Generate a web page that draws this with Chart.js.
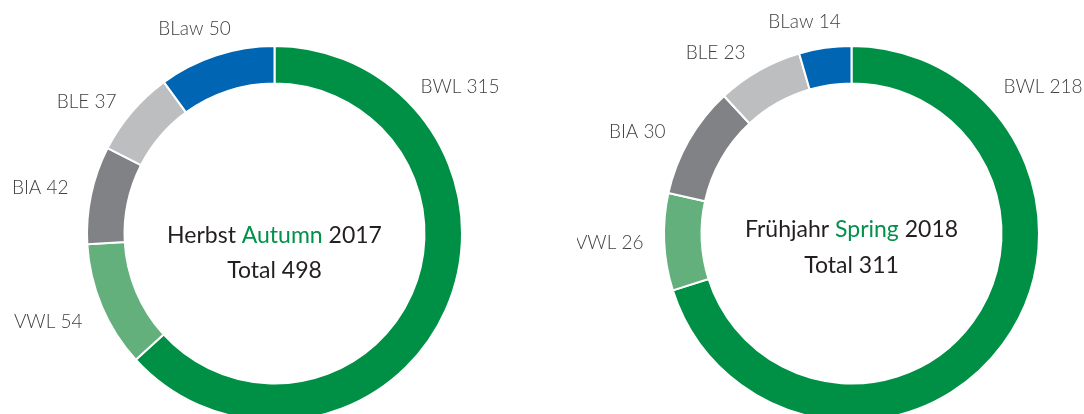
<!DOCTYPE html>
<html>
<head>
<meta charset="utf-8">
<script src="https://cdn.jsdelivr.net/npm/chart.js@4"></script>
<style>
  html, body { margin: 0; padding: 0; background: #fff; }
  body { width: 1084px; height: 414px; overflow: hidden; position: relative; }
  .box { position: absolute; top: 0; width: 549px; height: 440px; }
</style>
</head>
<body>
<div class="box" style="left:0px"><canvas id="herbst" width="549" height="440"></canvas></div>
<div class="box" style="left:577px"><canvas id="fruehjahr" width="549" height="440"></canvas></div>
<script>
// Daten
const faecher = ["BWL", "VWL", "BIA", "BLE", "BLaw"];
const herbst2017 = [315, 54, 42, 37, 50];
const fruehjahr2018 = [218, 26, 30, 23, 14];
const farben = ["#009045", "#64b07c", "#808285", "#bcbec0", "#0066b3"];

// Beschriftungen: [dx, dy (Grundlinie), Ausrichtung] relativ zum Mittelpunkt
const posHerbst = [[146, -141, "left"], [-192, 94, "right"], [-206, -40, "right"], [-158, -126, "right"], [-80, -199, "center"]];
const posFruehjahr = [[152, -141, "left"], [-208, 15, "right"], [-186, -96, "right"], [-106, -175, "right"], [-47, -206, "center"]];

const GRUEN_TEXT = "#00914a";
const DUNKEL = "#231f20";

const labelPlugin = {
    id: "labels",
    afterDraw(chart, args, opts) {
        const c = chart.ctx;
        const meta = chart.getDatasetMeta(0);
        const cx = meta.data[0].x;
        const cy = meta.data[0].y;
        const werte = chart.data.datasets[0].data;

        c.save();
        c.font = "300 19px Lato";
        c.fillStyle = "#414042";
        c.textBaseline = "alphabetic";
        chart.data.labels.forEach((l, i) => {
            const p = opts.pos[i];
            c.textAlign = p[2];
            c.fillText(l + " " + werte[i], cx + p[0], cy + p[1]);
        });

        // Text in der Mitte, mehrfarbig
        c.font = "400 23px Lato";
        c.textAlign = "left";
        const teile = opts.titel;
        const breite = teile.reduce((a, t) => a + c.measureText(t[0]).width, 0);
        let x = cx - breite / 2;
        teile.forEach(t => {
            c.fillStyle = t[1];
            c.fillText(t[0], x, cy + opts.titelDy[0]);
            x += c.measureText(t[0]).width;
        });
        const total = werte.reduce((a, b) => a + b, 0);
        c.textAlign = "center";
        c.fillStyle = DUNKEL;
        c.fillText("Total " + total, cx, cy + opts.titelDy[1]);
        c.restore();
    }
};

function donut(id, werte, pos, titel, titelDy) {
    const ctx = document.getElementById(id).getContext("2d");
    return new Chart(ctx, {
        type: "doughnut",
        data: {
            labels: faecher,
            datasets: [{
                data: werte,
                backgroundColor: farben,
                borderColor: "#ffffff",
                borderWidth: 2
            }]
        },
        options: {
            responsive: false,
            animation: false,
            cutout: "80%",
            layout: { padding: { top: 45, bottom: 18, left: 86, right: 86 } },
            plugins: {
                legend: { display: false },
                tooltip: { enabled: false },
                labels: { pos, titel, titelDy }
            }
        },
        plugins: [labelPlugin]
    });
}

donut("herbst", herbst2017, posHerbst,
    [["Herbst ", DUNKEL], ["Autumn", GRUEN_TEXT], [" 2017", DUNKEL]], [9.5, 44.5]);
donut("fruehjahr", fruehjahr2018, posFruehjahr,
    [["Frühjahr ", DUNKEL], ["Spring", GRUEN_TEXT], [" 2018", DUNKEL]], [3.5, 39]);
</script>
</body>
</html>
